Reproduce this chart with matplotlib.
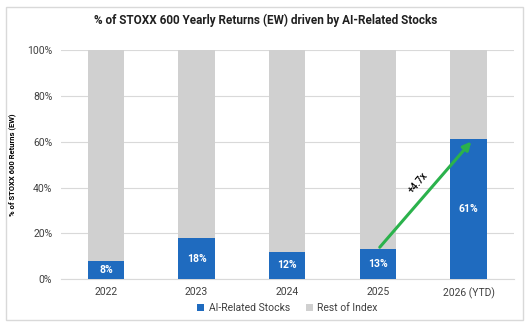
import matplotlib
matplotlib.use("Agg")
from matplotlib import pyplot as plt
from matplotlib.patches import Rectangle

years = ["2022", "2023", "2024", "2025", "2026 (YTD)"]
ai_share = [8, 18, 12, 13, 61]
rest_share = [100 - v for v in ai_share]
arrow_label = "+4.7x"

blue = "#1F6BBF"
grey = "#D0D0D0"
green = "#2BB24C"

plt.rcParams["font.family"] = ["Roboto", "DejaVu Sans"]

fig = plt.figure(figsize=(5.32, 3.28), dpi=100)
fig.patches.append(Rectangle((0.012, 0.025), 0.972, 0.955, transform=fig.transFigure,
                             fill=False, edgecolor="#D9D9D9", linewidth=1.0))
ax = fig.add_axes([0.114, 0.149, 0.852, 0.698])

x = range(len(years))
ax.bar(x, ai_share, width=0.4, color=blue, label="AI-Related Stocks", zorder=3)
ax.bar(x, rest_share, width=0.4, bottom=ai_share, color=grey, label="Rest of Index", zorder=3)

for i, v in enumerate(ai_share):
    ax.text(i, v / 2, f"{v}%", ha="center", va="center", color="white",
            fontsize=7.5, fontweight="bold", zorder=4)

# arrow from 2025 to 2026
ax.annotate("", xy=(4.05, 61), xytext=(3.0, 13),
            arrowprops=dict(arrowstyle="-|>", color=green, lw=2.2, mutation_scale=12), zorder=5)
ax.text(3.44, 42, arrow_label, rotation=50, ha="center", va="center", fontsize=7,
        fontweight="medium", zorder=5)

ax.set_xlim(-0.5, len(years) - 0.5)
ax.set_ylim(0, 100)
ax.set_yticks(range(0, 101, 20))
ax.set_yticklabels([f"{t}%" for t in range(0, 101, 20)])
ax.set_xticks(list(x))
ax.set_xticklabels(years)
ax.yaxis.grid(True, color="#D9D9D9", linewidth=0.8, zorder=0)
ax.tick_params(length=0, labelsize=7.5, colors="#404040", pad=6)
for s in ["top", "right", "left"]:
    ax.spines[s].set_visible(False)
ax.spines["bottom"].set_color("#D9D9D9")

ax.set_ylabel("% of STOXX 600 Returns (EW)", fontsize=5.5, fontweight="bold", labelpad=8)
fig.text(0.5, 0.938, "% of STOXX 600 Yearly Returns (EW) driven by AI-Related Stocks",
         ha="center", va="center", fontsize=8.5, fontweight="bold", color="#202020")

ax.legend(loc="upper center", bbox_to_anchor=(0.5, -0.065), ncol=2, frameon=False,
          fontsize=7.5, handlelength=0.7, handleheight=0.7, columnspacing=1.5,
          handletextpad=0.4, labelcolor="#404040")

fig.savefig("out.png", dpi=100)
